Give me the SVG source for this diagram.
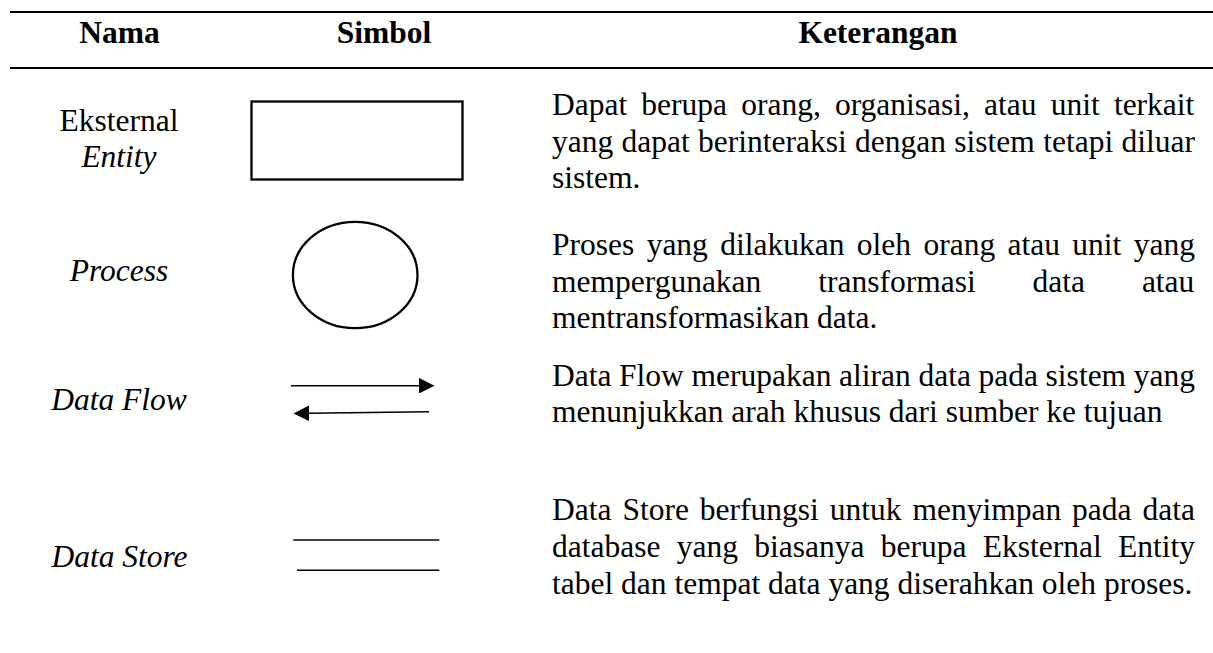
<svg xmlns="http://www.w3.org/2000/svg" width="1213" height="653" viewBox="0 0 1213 653">
<style>
  text { font-family: "Liberation Serif", "Times New Roman", serif; font-size: 31.5px; fill: #000; }
  .hd { font-weight: bold; text-anchor: middle; }
  .nm { text-anchor: middle; }
  .it { font-style: italic; }
  .rule { stroke: #000; stroke-width: 2.2; fill: none; }
  .shape { stroke: #000; stroke-width: 2.3; fill: none; }
  .flow { stroke: #000; stroke-width: 1.6; fill: none; }
  .store { stroke: #000; stroke-width: 1.6; fill: none; }
</style>
<defs>
  <marker id="arrow" viewBox="0 0 16 16" markerWidth="16" markerHeight="15.5" markerUnits="userSpaceOnUse" refX="0" refY="8" orient="auto">
    <path d="M0,0 L16,8 L0,16 Z" fill="#000"/>
  </marker>
</defs>
<rect width="1213" height="653" fill="#fff"/>

<g id="table-rules">
  <line class="rule" x1="10" y1="12" x2="1213" y2="12"/>
  <line class="rule" x1="10" y1="68" x2="1213" y2="68"/>
</g>

<g id="header">
  <text class="hd" x="119.5" y="43">Nama</text>
  <text class="hd" x="384" y="43">Simbol</text>
  <text class="hd" x="878" y="43">Keterangan</text>
</g>

<g id="row-external-entity">
  <text class="nm" x="119" y="131">Eksternal</text>
  <text class="nm it" x="119" y="167">Entity</text>
  <rect class="shape" x="251.5" y="101.5" width="211" height="78"/>
  <text x="552" y="115" word-spacing="6.27">Dapat berupa orang, organisasi, atau unit terkait</text>
  <text x="552" y="151.5" word-spacing="0.44">yang dapat berinteraksi dengan sistem tetapi diluar</text>
  <text x="552" y="188">sistem.</text>
</g>

<g id="row-process">
  <text class="nm it" x="119" y="281">Process</text>
  <ellipse class="shape" cx="355.2" cy="275" rx="62.3" ry="53.2"/>
  <text x="552" y="255" word-spacing="4.5">Proses yang dilakukan oleh orang atau unit yang</text>
  <text x="552" y="291.5" word-spacing="49">mempergunakan transformasi data atau</text>
  <text x="552" y="328">mentransformasikan data.</text>
</g>

<g id="row-data-flow">
  <text class="nm it" x="119" y="409.5">Data Flow</text>
  <text x="552" y="385.5" word-spacing="-0.24">Data Flow merupakan aliran data pada sistem yang</text>
  <text x="552" y="422">menunjukkan arah khusus dari sumber ke tujuan</text>
</g>

<g id="connectors">
  <line class="flow" x1="291" y1="385.7" x2="419" y2="385.7" marker-end="url(#arrow)"/>
  <line class="flow" x1="429" y1="411.7" x2="309" y2="413.2" marker-end="url(#arrow)"/>
</g>

<g id="row-data-store">
  <text class="nm it" x="119.5" y="567">Data Store</text>
  <line class="store" x1="293.3" y1="540" x2="439.3" y2="540"/>
  <line class="store" x1="297" y1="570.3" x2="439.3" y2="570.3"/>
  <text x="552" y="520" word-spacing="3.06">Data Store berfungsi untuk menyimpan pada data</text>
  <text x="552" y="557" word-spacing="8.4">database yang biasanya berupa Eksternal Entity</text>
  <text x="552" y="593.5">tabel dan tempat data yang diserahkan oleh proses.</text>
</g>
</svg>
